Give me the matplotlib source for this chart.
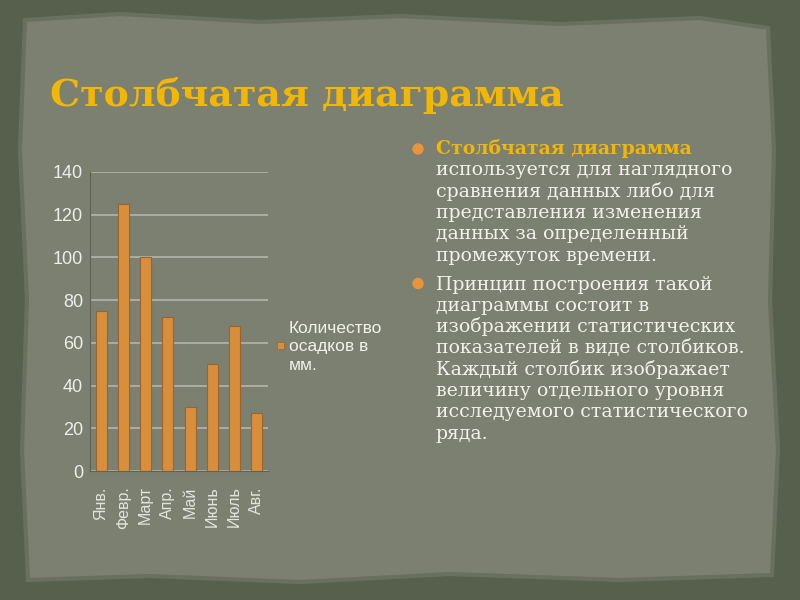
import numpy as np
import matplotlib.pyplot as plt
from matplotlib.patches import Polygon, Circle, Rectangle

# data
months = ['Янв.', 'Февр.', 'Март', 'Апр.', 'Май', 'Июнь', 'Июль', 'Авг.']
rainfall = [75, 125, 100, 72, 30, 50, 68, 27]
series_name = 'Количество\nосадков в\nмм.'
yticks = [0, 20, 40, 60, 80, 100, 120, 140]

title = 'Столбчатая диаграмма'
para1_head = 'Столбчатая диаграмма'
para1 = ['используется для наглядного',
         'сравнения данных либо для',
         'представления изменения',
         'данных за определенный',
         'промежуток времени.']
para2 = ['Принцип построения такой',
         'диаграммы состоит в',
         'изображении статистических',
         'показателей в виде столбиков.',
         'Каждый столбик изображает',
         'величину отдельного уровня',
         'исследуемого статистического',
         'ряда.']

gold = '#f2b705'
bar_col = '#d98e3c'
txt_col = '#f3f1ea'

fig = plt.figure(figsize=(8, 6), dpi=100)
fig.patch.set_facecolor('#56604d')

# background "paper"
bg = fig.add_axes([0, 0, 1, 1])
bg.set_xlim(0, 800)
bg.set_ylim(600, 0)
bg.axis('off')
edge = [(25, 20), (120, 14), (260, 22), (400, 16), (560, 24), (700, 18), (768, 28),
        (774, 150), (770, 300), (778, 450), (772, 575), (620, 580), (450, 574),
        (300, 582), (150, 576), (28, 580), (22, 450), (27, 300), (20, 150)]
bg.add_patch(Polygon(edge, closed=True, facecolor='#7b8070', edgecolor='#6a7060', lw=3))

bg.text(50, 106, title, fontsize=27.3, fontweight='bold', color=gold,
        family='DejaVu Serif', va='baseline')

# bullets and text
fs = 13.6
x0 = 436
bg.add_patch(Circle((418, 149), 5, color='#e8943a'))
bg.text(x0, 154, para1_head, fontsize=fs, fontweight='bold', color=gold,
        family='DejaVu Serif', va='baseline')
y = 154
for line in para1:
    y += 21.3
    bg.text(x0, y, line, fontsize=fs, color=txt_col, family='DejaVu Serif', va='baseline')
y += 29
bg.add_patch(Circle((418, y - 6), 5, color='#e8943a'))
for i, line in enumerate(para2):
    bg.text(x0, y, line, fontsize=fs, color=txt_col, family='DejaVu Serif', va='baseline')
    y += 21.3

# chart
ax = fig.add_axes([90 / 800, 129 / 600, 178 / 800, 299 / 600])
ax.set_facecolor('none')
x = np.arange(len(months))
ax.bar(x, rainfall, width=0.5, color=bar_col, edgecolor='#9a6430', lw=0.8, zorder=3)
ax.set_xlim(-0.5, len(months) - 0.5)
ax.set_ylim(0, 140)
ax.set_yticks(yticks)
ax.yaxis.grid(True, color='#b4b6ac', lw=1.2, zorder=0)
for s in ['top', 'right']:
    ax.spines[s].set_visible(False)
for s in ['left', 'bottom']:
    ax.spines[s].set_color('#5e6256')
ax.tick_params(axis='y', colors='#eeeeea', labelsize=13, length=0, pad=5)
ax.tick_params(axis='x', colors='#e4e4de', labelsize=11.5, length=0, pad=11)
ax.set_xticks(x)
ax.set_xticklabels(months, rotation=90, family='Liberation Sans')
for lab in ax.get_yticklabels():
    lab.set_family('Liberation Sans')

# legend
bg.add_patch(Rectangle((277, 342), 7, 7, facecolor=bar_col, edgecolor='#9a6430', lw=0.5))
bg.text(289, 347, series_name, fontsize=12.5, color=txt_col, family='Liberation Sans',
        va='center', linespacing=1.3)

fig.savefig('out.png', dpi=100, facecolor=fig.get_facecolor())
